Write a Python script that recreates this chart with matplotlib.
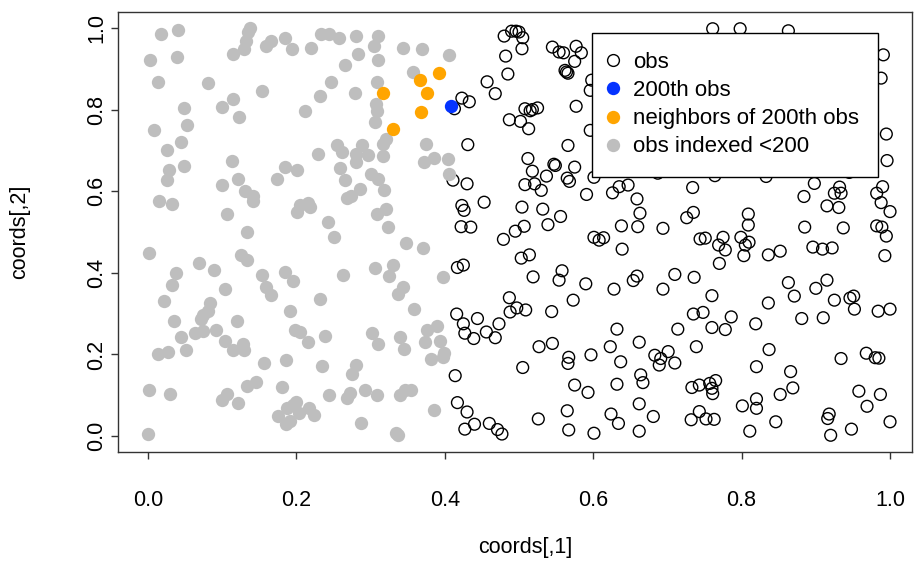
import matplotlib
matplotlib.use("Agg")
import matplotlib.pyplot as plt
from matplotlib.lines import Line2D

plt.rcParams['font.family'] = ['Liberation Sans', 'DejaVu Sans']

# obs indexed < 200 (gray)
gray_x = [.018, .041, .003, .039, .013, .081, .115, .138, .135, .132,
          .129, .159, .166, .184, .154, .115, .100, .123, .049, .053,
          .008, .044, .026, .113, .049, .029, .025, .100, .121, .174,
          .185, .131, .141, .142, .015, .033, .107, .133, .001, .126,
          .133, .069, .089, .038, .033, .104, .153, .159, .166, .185,
          .021, .083, .035, .074, .081, .072, .120, .045, .064, .074,
          .091, .104, .128, .115, .129, .013, .027, .051, .156, .186,
          .002, .030, .133, .146, .180, .106, .100, .121, .188, .175,
          .186, .000, .194, .233, .244, .258, .280, .310, .304, .220,
          .283, .265, .310, .344, .369, .405, .357, .247, .309, .232,
          .279, .212, .307, .308, .306, .321, .317, .255, .261, .289,
          .281, .296, .229, .317, .374, .385, .404, .372, .201, .280,
          .259, .265, .300, .310, .286, .318, .268, .273, .205, .216,
          .201, .218, .243, .251, .309, .321, .324, .348, .370, .405,
          .196, .263, .306, .330, .325, .344, .337, .232, .397, .358,
          .192, .198, .205, .216, .239, .302, .310, .339, .345, .376,
          .389, .373, .394, .381, .397, .399, .234, .280, .275, .244,
          .268, .272, .292, .308, .340, .346, .354, .196, .199, .217,
          .224, .203, .191, .287, .334, .337, .385]
gray_y = [.985, .994, .921, .929, .868, .864, .935, 1.0, .990, .967,
          .949, .956, .968, .975, .846, .825, .807, .781, .803, .762,
          .750, .721, .701, .674, .662, .652, .628, .614, .629, .629,
          .660, .600, .589, .576, .577, .569, .544, .501, .449, .444,
          .431, .423, .406, .399, .370, .360, .394, .366, .346, .402,
          .332, .325, .283, .297, .306, .288, .283, .242, .252, .258,
          .259, .234, .225, .211, .212, .201, .205, .211, .179, .187,
          .113, .104, .122, .133, .120, .103, .089, .080, .070, .049,
          .029, .006, .949, .986, .984, .976, .980, .980, .956, .951,
          .935, .910, .922, .952, .949, .933, .892, .868, .868, .833,
          .840, .797, .813, .797, .770, .729, .716, .713, .696, .714,
          .692, .689, .690, .686, .715, .682, .680, .672, .652, .671,
          .658, .628, .641, .630, .606, .602, .583, .589, .566, .570,
          .548, .562, .524, .487, .543, .556, .512, .472, .460, .641,
          .380, .395, .411, .419, .392, .366, .347, .335, .390, .312,
          .306, .261, .254, .230, .244, .252, .225, .243, .214, .261,
          .270, .230, .232, .189, .193, .203, .172, .173, .153, .100,
          .093, .105, .113, .101, .101, .113, .112, .077, .083, .069,
          .052, .056, .036, .032, .007, .003, .063]

# neighbors of the 200th obs
nbr_x = [.367, .392, .376, .317, .368, .330]
nbr_y = [.873, .890, .841, .840, .794, .753]

# the 200th obs
obs200_x = [.408]
obs200_y = [.808]

# remaining obs (open circles)
obs_x = [.480, .490, .496, .500, .505, .504, .482, .485, .457, .468,
         .423, .433, .413, .545, .554, .560, .577, .584, .575, .562,
         .564, .566, .598, .596, .577, .596, .508, .515, .518, .525,
         .487, .502, .513, .431, .566, .512, .518, .547, .549, .575,
         .537, .565, .568, .601, .508, .521, .530, .591, .411, .430,
         .453, .423, .426, .504, .532, .556, .539, .507, .495, .422,
         .435, .479, .601, .608, .503, .514, .417, .425, .519, .558,
         .554, .590, .487, .573, .416, .425, .444, .427, .439, .456,
         .468, .473, .488, .497, .509, .544, .527, .545, .567, .566,
         .597, .505, .414, .575, .593, .417, .430, .526, .565, .427,
         .440, .460, .471, .477, .567, .601, .687, .764, .626, .635,
         .647, .659, .663, .638, .660, .694, .734, .726, .735, .614,
         .639, .744, .751, .769, .775, .778, .770, .809, .809, .799,
         .810, .805, .803, .654, .659, .710, .736, .628, .694, .760,
         .735, .748, .786, .760, .778, .819, .632, .714, .623, .662,
         .739, .683, .691, .689, .701, .710, .637, .820, .664, .667,
         .632, .733, .743, .757, .765, .760, .761, .820, .820, .801,
         .662, .624, .634, .681, .743, .732, .752, .763, .662, .811,
         .996, .945, .833, .898, .884, .932, .925, .934, .915, .931,
         .990, .982, .988, 1.00, .885, .937, .982, .989, .995, .896,
         .909, .922, .836, .852, .993, .863, .915, .900, .871, .925,
         .946, .951, .836, .952, .984, 1.00, .881, .910, .837, .866,
         .934, .968, .980, .985, .869, .852, .958, .987, .969, .918,
         .916, .846, 1.00, .948, .920, .761, .798, .863, .991, .988,
         .995]
obs_y = [.980, .992, .992, .990, .976, .949, .931, .887, .868, .839,
         .828, .819, .802, .953, .941, .939, .955, .939, .918, .896,
         .892, .889, .872, .847, .808, .749, .802, .797, .800, .804,
         .775, .771, .753, .714, .712, .680, .649, .666, .663, .659,
         .637, .632, .624, .634, .616, .618, .602, .592, .627, .618,
         .573, .565, .553, .561, .556, .538, .518, .514, .502, .513,
         .512, .482, .487, .480, .436, .444, .413, .419, .390, .405,
         .382, .373, .339, .333, .299, .275, .288, .252, .239, .255,
         .241, .275, .304, .314, .309, .305, .219, .227, .193, .178,
         .199, .168, .148, .125, .107, .082, .059, .042, .062, .017,
         .029, .031, .016, .005, .015, .007, .644, .638, .596, .611,
         .615, .581, .546, .515, .513, .509, .609, .535, .548, .486,
         .458, .483, .485, .468, .487, .456, .423, .544, .517, .487,
         .475, .468, .442, .381, .392, .396, .389, .360, .360, .344,
         .299, .303, .292, .266, .261, .275, .262, .262, .219, .230,
         .219, .198, .190, .174, .207, .179, .182, .170, .150, .131,
         .127, .119, .125, .129, .136, .117, .104, .091, .068, .074,
         .079, .054, .031, .048, .060, .040, .042, .041, .012, .012,
         .675, .646, .636, .619, .587, .610, .595, .595, .564, .560,
         .611, .595, .572, .550, .512, .510, .515, .512, .490, .463,
         .458, .461, .444, .453, .442, .376, .382, .362, .343, .333,
         .338, .343, .326, .311, .306, .311, .288, .290, .212, .158,
         .190, .203, .192, .191, .118, .102, .110, .102, .073, .054,
         .043, .035, .035, .017, .002, .998, .998, .993, .934, .877,
         .740]

ticks = [0.0, 0.2, 0.4, 0.6, 0.8, 1.0]
tick_labels = ['0.0', '0.2', '0.4', '0.6', '0.8', '1.0']
legend_labels = ['obs', '200th obs', 'neighbors of 200th obs', 'obs indexed <200']

gray = '#BEBEBE'
orange = '#FFA500'
blue = '#0433FF'
fs = 15.5
leg_fs = 16

fig = plt.figure(figsize=(9.16, 5.64), dpi=100)
ax = fig.add_axes([118/916, 112/564, 794/916, 440/564])

ax.scatter(obs_x, obs_y, s=72, facecolors='none', edgecolors='black', linewidths=1.0, zorder=2)
ax.scatter(gray_x, gray_y, s=92, color=gray, linewidths=0, zorder=3)
ax.scatter(nbr_x, nbr_y, s=92, color=orange, linewidths=0, zorder=4)
ax.scatter(obs200_x, obs200_y, s=92, color=blue, linewidths=0, zorder=5)

ax.set_xlim(-0.0404, 1.0296)
ax.set_ylim(-0.039, 1.039)
ax.set_xticks(ticks)
ax.set_xticklabels(tick_labels)
ax.set_yticks(ticks)
ax.set_yticklabels(tick_labels, rotation=90, va='center')
ax.tick_params(direction='out', length=5, width=1, labelsize=fs, color='#333333')
ax.tick_params(axis='x', pad=22)
ax.tick_params(axis='y', pad=3)
for sp in ax.spines.values():
    sp.set_linewidth(1.0)
    sp.set_color('#333333')

ax.set_xlabel('coords[,1]', fontsize=fs)
ax.set_ylabel('coords[,2]', fontsize=fs)
ax.xaxis.set_label_coords((525 - 118) / 794, (452 - 548) / 440)
ax.xaxis.label.set_va('center')
ax.yaxis.set_label_coords((20 - 118) / 794, 0.5)
ax.yaxis.label.set_va('center')

handles = [
    Line2D([], [], ls='none', marker='o', ms=8.5, mfc='none', mec='black', mew=1.0),
    Line2D([], [], ls='none', marker='o', ms=9.6, color=blue, mew=0),
    Line2D([], [], ls='none', marker='o', ms=9.6, color=orange, mew=0),
    Line2D([], [], ls='none', marker='o', ms=9.6, color=gray, mew=0),
]
leg = ax.legend(handles, legend_labels, loc='upper left',
                bbox_to_anchor=((592 - 118) / 794, (452 - 33) / 440),
                borderaxespad=0, fontsize=leg_fs, frameon=True, fancybox=False,
                framealpha=1, edgecolor='black', borderpad=0.86,
                handlelength=0.2, handletextpad=0.8, labelspacing=0.32)
leg.get_frame().set_linewidth(1.0)
leg.set_zorder(10)

fig.savefig('out.png', dpi=100)
